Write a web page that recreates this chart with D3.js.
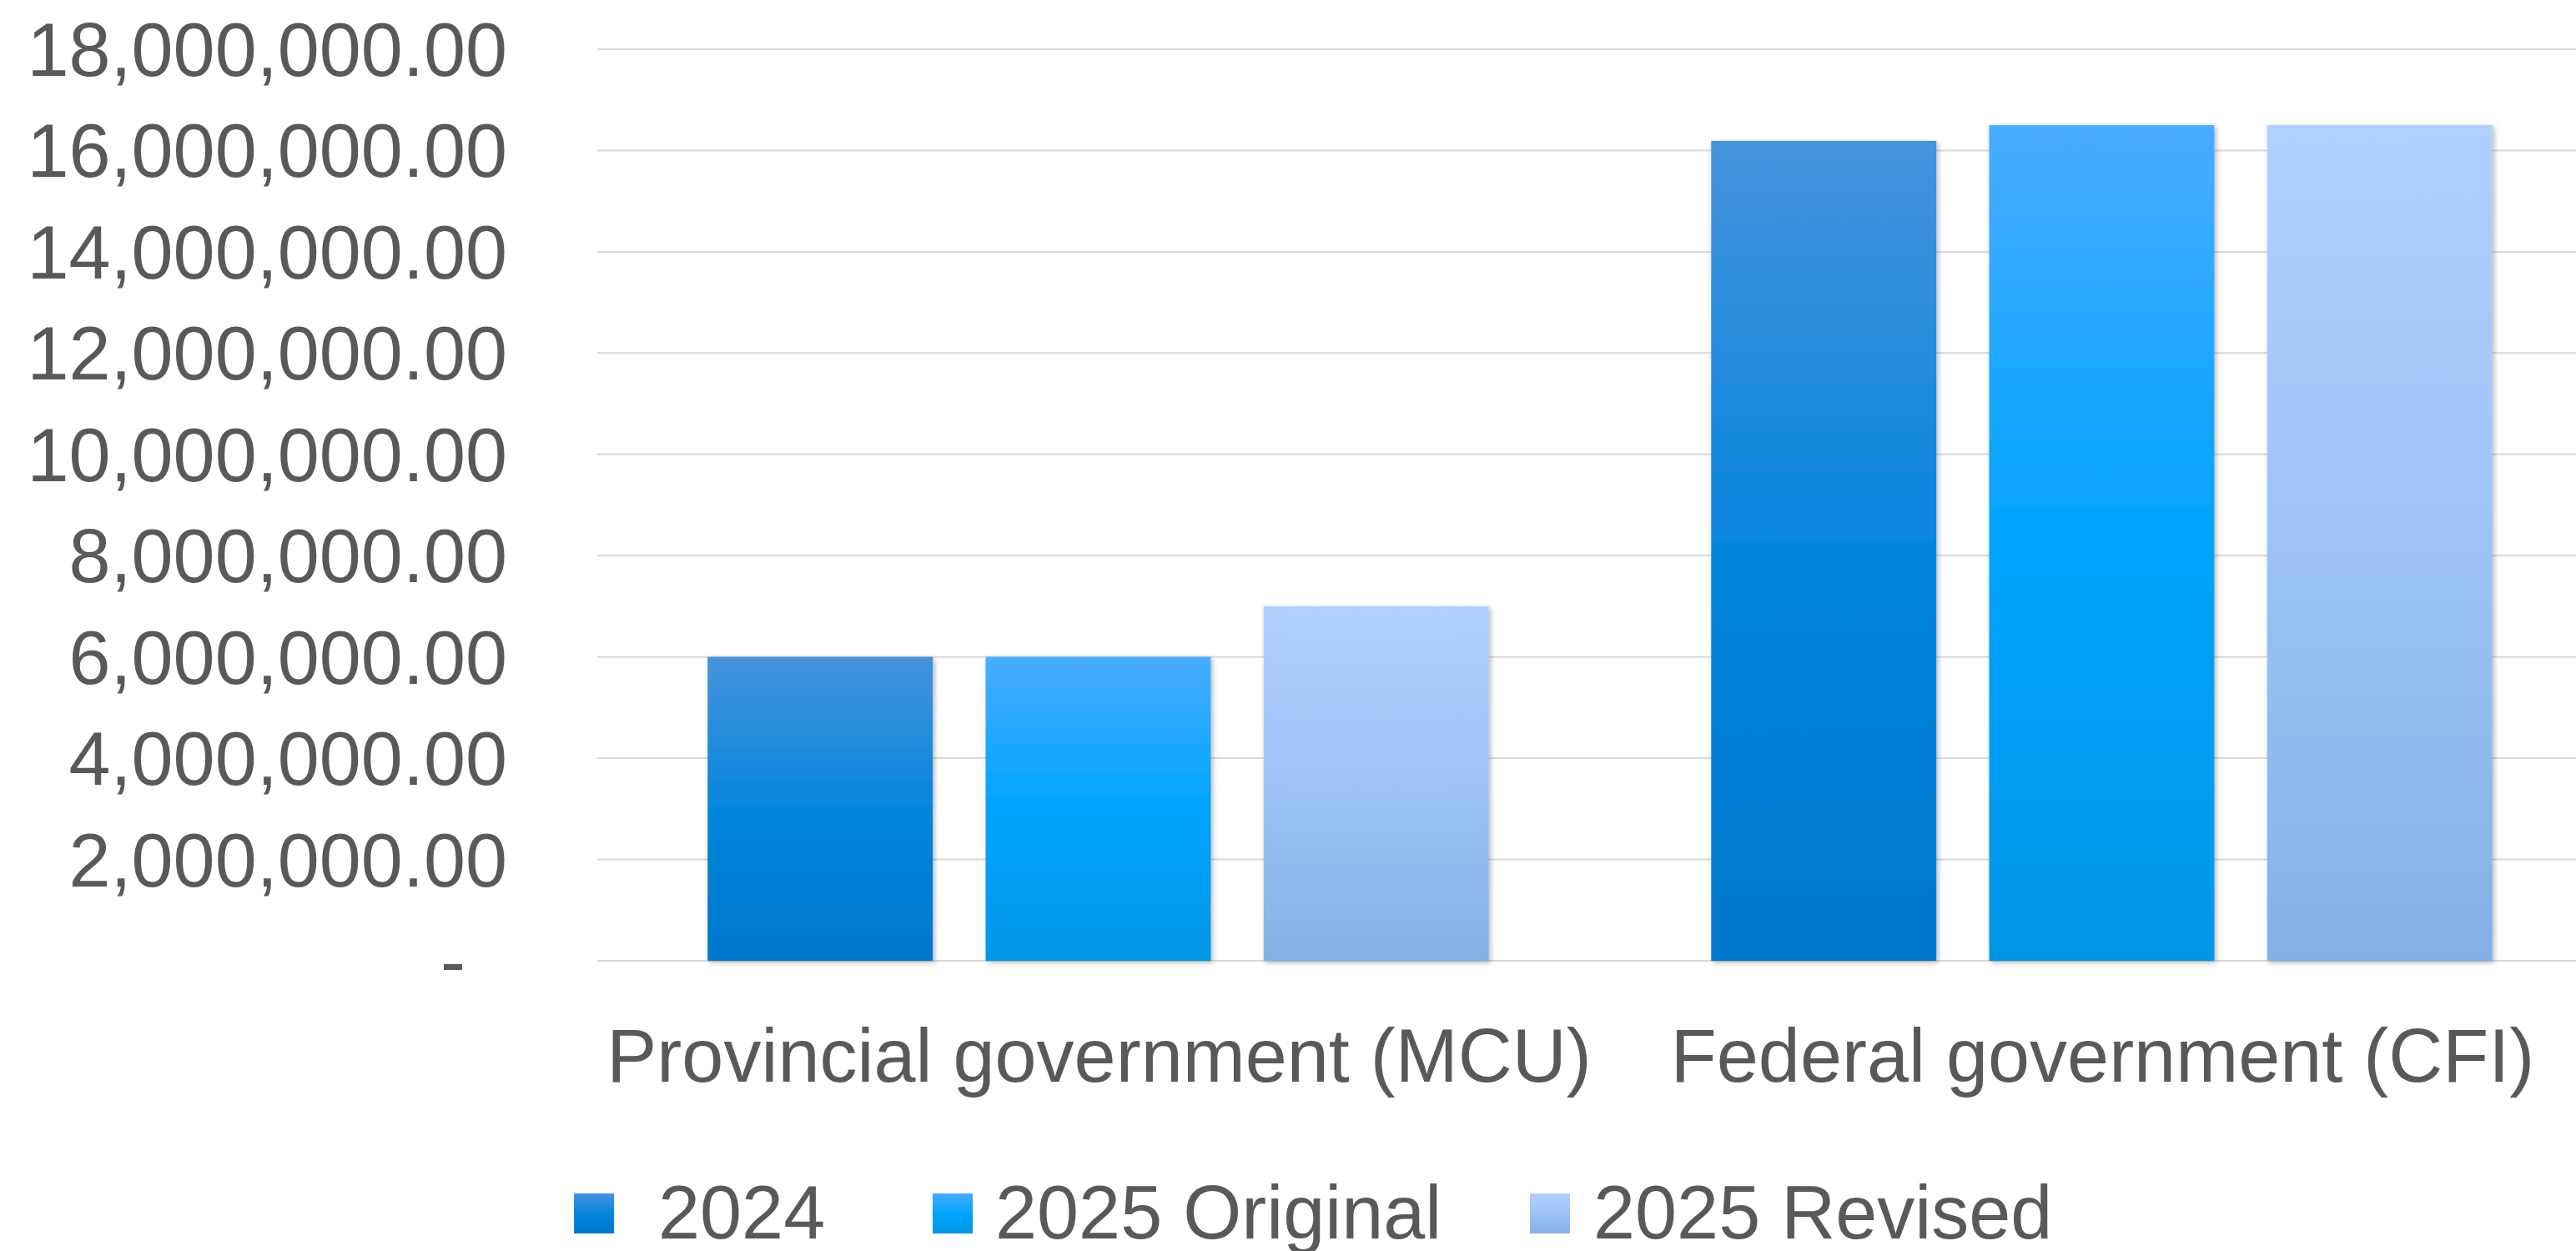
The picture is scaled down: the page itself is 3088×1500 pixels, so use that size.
<!DOCTYPE html>
<html>
<head>
<meta charset="utf-8">
<script src="https://cdn.jsdelivr.net/npm/d3@7"></script>
<style>
  body { margin: 0; background: #ffffff; }
  text { font-family: "Liberation Sans", Arial, sans-serif; fill: #595959; }
</style>
</head>
<body>
<svg id="chart"></svg>
<script>
const categories = ["Provincial government (MCU)", "Federal government (CFI)"];
const series = ["2024", "2025 Original", "2025 Revised"];
const values2024 = [6000000, 16190000];
const values2025Original = [6000000, 16500000];
const values2025Revised = [7000000, 16500000];
const yTicks = [0, 2000000, 4000000, 6000000, 8000000, 10000000, 12000000, 14000000, 16000000, 18000000];

// gradient stops per series: top tint, middle base, bottom shade
const seriesColors = [
  ["#4693dc", "#0585dd", "#0078cd"],
  ["#48acff", "#00a4ff", "#0096e4"],
  ["#b0d0ff", "#9dc3f5", "#83b1e5"]
];

const width = 3088;
const height = 1500;

const svg = d3.select("#chart")
    .attr("width", width)
    .attr("height", height);

const defs = svg.append("defs");

series.forEach(function(s, i) {
  const grad = defs.append("linearGradient")
      .attr("id", "grad" + i)
      .attr("x1", 0).attr("y1", 0)
      .attr("x2", 0).attr("y2", 1);
  grad.append("stop").attr("offset", "0%").attr("stop-color", seriesColors[i][0]);
  grad.append("stop").attr("offset", "50%").attr("stop-color", seriesColors[i][1]);
  grad.append("stop").attr("offset", "100%").attr("stop-color", seriesColors[i][2]);
});

const shadow = defs.append("filter")
    .attr("id", "shadow")
    .attr("x", "-10%").attr("y", "-10%")
    .attr("width", "120%").attr("height", "120%");
shadow.append("feDropShadow")
    .attr("dx", 2).attr("dy", 2)
    .attr("stdDeviation", 3)
    .attr("flood-color", "#000000")
    .attr("flood-opacity", 0.3);

const y = d3.scaleLinear()
    .domain([0, 18000000])
    .range([1152, 59]);

const x0 = d3.scaleBand()
    .domain(categories)
    .range([715, 3121]);

const x1 = d3.scaleBand()
    .domain(series)
    .range([0, x0.bandwidth()])
    .paddingInner(0.19)
    .paddingOuter(0.4);

// gridlines
svg.append("g")
    .attr("stroke", "#d9d9d9")
    .attr("stroke-width", 2)
  .selectAll("line")
  .data(yTicks)
  .join("line")
    .attr("x1", 716)
    .attr("x2", width)
    .attr("y1", d => y(d))
    .attr("y2", d => y(d));

// y axis labels
const fmt = d3.format(",.2f");
const yAxis = d3.axisLeft(y)
    .tickValues(yTicks)
    .tickSize(0)
    .tickPadding(0)
    .tickFormat(d => d === 0 ? "-" : fmt(d));

const yg = svg.append("g")
    .attr("transform", "translate(608,0)")
    .call(yAxis);
yg.select(".domain").remove();
yg.selectAll("text")
    .attr("font-size", 90)
    .attr("font-family", "Liberation Sans, Arial, sans-serif")
    .attr("fill", "#595959")
    .attr("dy", "0.35em")
    .attr("dx", d => d === 0 ? -50 : 0);

// bars
const rows = categories.map(function(c, i) {
  return { category: c, values: [values2024[i], values2025Original[i], values2025Revised[i]] };
});

const groups = svg.append("g")
  .selectAll("g")
  .data(rows)
  .join("g")
    .attr("transform", d => "translate(" + x0(d.category) + ",0)");

groups.selectAll("rect")
  .data(d => d.values.map((v, i) => ({ key: series[i], index: i, value: v })))
  .join("rect")
    .attr("x", d => x1(d.key))
    .attr("y", d => y(d.value))
    .attr("width", x1.bandwidth())
    .attr("height", d => y(0) - y(d.value))
    .attr("fill", d => "url(#grad" + d.index + ")")
    .attr("filter", "url(#shadow)");

// x axis labels
const xAxis = d3.axisBottom(x0).tickSize(0).tickPadding(0);
const xg = svg.append("g")
    .attr("transform", "translate(0,1297)")
    .call(xAxis);
xg.select(".domain").remove();
xg.selectAll("text")
    .attr("font-size", 90)
    .attr("font-family", "Liberation Sans, Arial, sans-serif")
    .attr("fill", "#595959")
    .attr("dy", 0)
    .attr("dx", 1);

// legend
const legendX = [688, 1118, 1834];
const legendTextX = [789, 1193, 1910];

const legend = svg.append("g")
  .selectAll("g")
  .data(series)
  .join("g");

legend.append("rect")
    .attr("x", (d, i) => legendX[i])
    .attr("y", 1431)
    .attr("width", 48)
    .attr("height", 48)
    .attr("fill", (d, i) => "url(#grad" + i + ")");

legend.append("text")
    .attr("x", (d, i) => legendTextX[i])
    .attr("y", 1485)
    .attr("font-size", 90)
    .text(d => d);
</script>
</body>
</html>
